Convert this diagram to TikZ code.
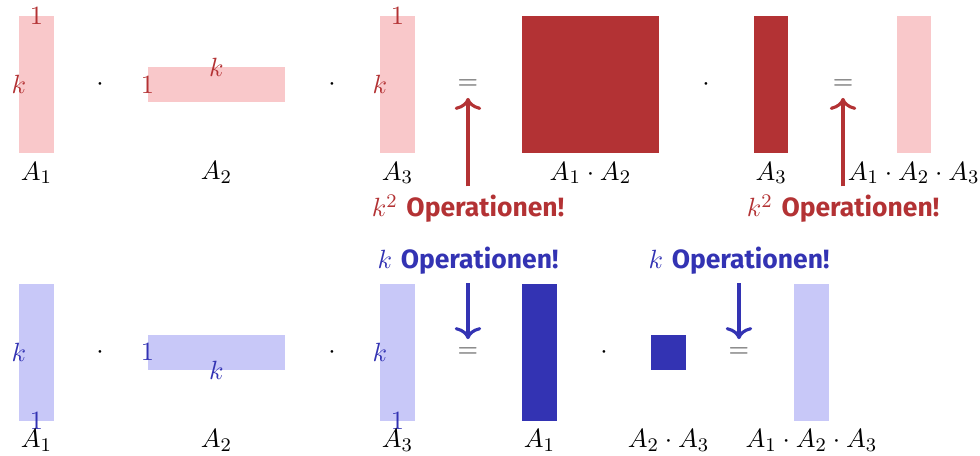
\documentclass[tikz,border=0pt]{standalone}
\usepackage{fontspec}
\newfontfamily\firasans{Fira Sans}
\usepackage{xcolor}
\usetikzlibrary{arrows.meta}
\definecolor{mat-darkred}{HTML}{B33234}
\definecolor{mat-lightred}{HTML}{F9C8CA}
\definecolor{mat-darkblue}{HTML}{3333B3}
\definecolor{mat-lightblue}{HTML}{C8C8F8}
\definecolor{eq-gray}{HTML}{555555}

\begin{document}
\begin{tikzpicture}[
      every node/.style={font=\fontsize{11}{13}\selectfont},
      bar/.style={inner sep=0pt, minimum width=0.5cm, minimum height=2cm},
      flat/.style={inner sep=0pt, minimum width=2cm, minimum height=0.5cm},
      unit/.style={inner sep=0pt, minimum width=0.5cm, minimum height=0.5cm},
      square/.style={inner sep=0pt, minimum width=2cm, minimum height=2cm},
      eqsign/.style={text=eq-gray},
      oplabel/.style={font=\fontsize{11}{13}\selectfont},
      oparrow/.style={line width=1.3pt, -{To[length=5pt, width=11pt]}}]
    \useasboundingbox (0,0) rectangle (14.307,-6.657);

    % first row: (A1 * A2) * A3
    \node[bar, fill=mat-lightred] (A1) at (0.533,-1.234) {};
    \node[text=mat-darkred] (A1t) at (A1.north) {$1$};
    \node[text=mat-darkred] (A1k) at (A1.west) {$k$};
    \node[below] (A1n) at (A1.south) {$A_1$};
    \node (d1) at (1.46,-1.234) {$\cdot$};
    \node[flat, fill=mat-lightred] (A2) at (3.161,-1.234) {};
    \node[text=mat-darkred] (A2k) at (A2.north) {$k$};
    \node[text=mat-darkred] (A2o) at (A2.west) {$1$};
    \node[below] (A2n) at (3.161,-2.234) {$A_2$};
    \node (d2) at (4.847,-1.234) {$\cdot$};
    \node[bar, fill=mat-lightred] (A3) at (5.803,-1.234) {};
    \node[text=mat-darkred] (A3t) at (A3.north) {$1$};
    \node[text=mat-darkred] (A3k) at (A3.west) {$k$};
    \node[below] (A3n) at (A3.south) {$A_3$};
    \node[eqsign] (eq1) at (6.832,-1.234) {$=$};
    \node[square, fill=mat-darkred] (P12) at (8.62,-1.234) {};
    \node[below] (P12n) at (P12.south) {$A_1 \cdot A_2$};
    \node (d3) at (10.307,-1.234) {$\cdot$};
    \node[bar, fill=mat-darkred] (B3) at (11.26,-1.234) {};
    \node[below] (B3n) at (B3.south) {$A_3$};
    \node[eqsign] (eq2) at (12.307,-1.234) {$=$};
    \node[bar, fill=mat-lightred] (R1) at (13.34,-1.234) {};
    \node[below] (R1n) at (R1.south) {$A_1 \cdot A_2 \cdot A_3$};

    \node[oplabel, text=mat-darkred] (op1) at (6.832,-3.05) {$k^2$ {\firasans\bfseries Operationen!}};
    \node[oplabel, text=mat-darkred] (op2) at (12.307,-3.05) {$k^2$ {\firasans\bfseries Operationen!}};
    \draw[oparrow, mat-darkred] (op1.north) -- (eq1.south);
    \draw[oparrow, mat-darkred] (op2.north) -- (eq2.south);

    % second row: A1 * (A2 * A3)
    \node[bar, fill=mat-lightblue] (C1) at (0.533,-5.146) {};
    \node[text=mat-darkblue] (C1k) at (C1.west) {$k$};
    \node[text=mat-darkblue] (C1b) at (C1.south) {$1$};
    \node[below] (C1n) at (C1.south) {$A_1$};
    \node (e1) at (1.46,-5.146) {$\cdot$};
    \node[flat, fill=mat-lightblue] (C2) at (3.161,-5.146) {};
    \node[text=mat-darkblue] (C2o) at (C2.west) {$1$};
    \node[text=mat-darkblue] (C2k) at (C2.south) {$k$};
    \node[below] (C2n) at (3.161,-6.146) {$A_2$};
    \node (e2) at (4.847,-5.146) {$\cdot$};
    \node[bar, fill=mat-lightblue] (C3) at (5.803,-5.146) {};
    \node[text=mat-darkblue] (C3k) at (C3.west) {$k$};
    \node[text=mat-darkblue] (C3b) at (C3.south) {$1$};
    \node[below] (C3n) at (C3.south) {$A_3$};
    \node[eqsign] (eq3) at (6.832,-5.146) {$=$};
    \node[bar, fill=mat-darkblue] (D1) at (7.876,-5.146) {};
    \node[below] (D1n) at (D1.south) {$A_1$};
    \node (e3) at (8.818,-5.146) {$\cdot$};
    \node[unit, fill=mat-darkblue] (P23) at (9.759,-5.146) {};
    \node[below] (P23n) at (9.759,-6.146) {$A_2 \cdot A_3$};
    \node[eqsign] (eq4) at (10.788,-5.146) {$=$};
    \node[bar, fill=mat-lightblue] (R2) at (11.847,-5.146) {};
    \node[below] (R2n) at (R2.south) {$A_1 \cdot A_2 \cdot A_3$};

    \node[oplabel, text=mat-darkblue] (op3) at (6.832,-3.81) {$k$ {\firasans\bfseries Operationen!}};
    \node[oplabel, text=mat-darkblue] (op4) at (10.788,-3.81) {$k$ {\firasans\bfseries Operationen!}};
    \draw[oparrow, mat-darkblue] (op3.south) -- (eq3.north);
    \draw[oparrow, mat-darkblue] (op4.south) -- (eq4.north);
  \end{tikzpicture}
\end{document}
